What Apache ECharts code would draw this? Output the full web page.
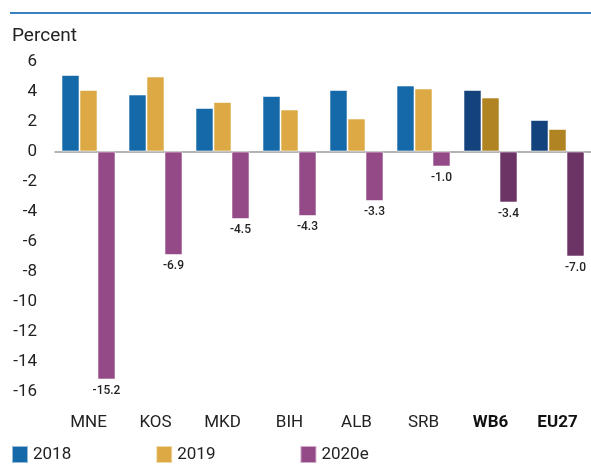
<!DOCTYPE html>
<html>
<head>
<meta charset="utf-8">
<script src="https://cdn.jsdelivr.net/npm/echarts@6/dist/echarts.min.js"></script>
<style>
  html, body { margin: 0; padding: 0; background: #fff; }
  #grafico { width: 591px; height: 464px; }
</style>
</head>
<body>
<div id="grafico"></div>
<script>
// DATOS
const categories = ["MNE", "KOS", "MKD", "BIH", "ALB", "SRB", "WB6", "EU27"];
const values2018 = [5.1, 3.8, 2.9, 3.7, 4.1, 4.4, 4.1, 2.1];
const values2019 = [4.1, 5.0, 3.3, 2.8, 2.2, 4.2, 3.6, 1.5];
const values2020 = [-15.2, -6.9, -4.5, -4.3, -3.3, -1.0, -3.4, -7.0];
const aggregates = ["WB6", "EU27"];

const font = "Roboto, sans-serif";

// colores: normal / agregados (más oscuros)
const colors = {
  "2018": ["#1569a8", "#13427c"],
  "2019": ["#dca944", "#b08323"],
  "2020e": ["#944a87", "#6c3464"]
};

function paint(values, name) {
  return values.map((v, i) => ({
    value: v,
    itemStyle: { color: colors[name][aggregates.includes(categories[i]) ? 1 : 0] }
  }));
}

const barStyle = { borderColor: "rgba(255,255,255,0.55)", borderWidth: 1 };

let options = {
  animation: false,
  title: {
    text: "Percent",
    left: 7,
    top: 22,
    textStyle: { fontFamily: font, fontSize: 19, fontWeight: "normal", color: "#222" }
  },
  graphic: [
    {
      type: "line",
      shape: { x1: 10, y1: 13, x2: 591, y2: 13 },
      style: { stroke: "#3b80c0", lineWidth: 2 }
    }
  ],
  legend: {
    left: 11,
    top: 445,
    padding: 0,
    itemWidth: 16,
    itemHeight: 17,
    itemGap: 84,
    icon: "rect",
    textStyle: { fontFamily: font, fontSize: 17, color: "#222" },
    data: ["2018", "2019", "2020e"]
  },
  grid: { left: 55, top: 61.5, width: 542, bottom: 72.5 },
  xAxis: [
    {
      type: "category",
      data: categories,
      axisLine: { onZero: true, lineStyle: { color: "#9a9a9a", width: 1.5 } },
      axisTick: { show: false },
      axisLabel: { show: false }
    },
    {
      type: "category",
      data: categories,
      position: "bottom",
      axisLine: { show: false, onZero: false },
      axisTick: { show: false },
      axisLabel: {
        interval: 0,
        margin: 23,
        fontFamily: font,
        fontSize: 17,
        color: "#222",
        formatter: v => aggregates.includes(v) ? "{b|" + v + "}" : v,
        rich: { b: { fontFamily: font, fontSize: 17, fontWeight: "bold", color: "#111" } }
      }
    }
  ],
  yAxis: {
    type: "value",
    min: -16,
    max: 6,
    interval: 2,
    axisLine: { show: false },
    axisTick: { show: false },
    splitLine: { show: false },
    axisLabel: { margin: 18, fontFamily: font, fontSize: 17, color: "#222" }
  },
  series: [
    {
      name: "2018",
      type: "bar",
      barWidth: 18,
      barGap: "0%",
      itemStyle: Object.assign({ color: colors["2018"][0] }, barStyle),
      data: paint(values2018, "2018")
    },
    {
      name: "2019",
      type: "bar",
      barWidth: 18,
      barGap: "0%",
      itemStyle: Object.assign({ color: colors["2019"][0] }, barStyle),
      data: paint(values2019, "2019")
    },
    {
      name: "2020e",
      type: "bar",
      barWidth: 18,
      barGap: "0%",
      itemStyle: Object.assign({ color: colors["2020e"][0] }, barStyle),
      label: {
        show: true,
        position: "bottom",
        distance: 5,
        fontFamily: font,
        fontSize: 12,
        fontWeight: 500,
        color: "#222",
        formatter: p => p.value.toFixed(1)
      },
      data: paint(values2020, "2020e")
    }
  ]
};

let chart = echarts.init(document.getElementById("grafico"));
chart.setOption(options);
</script>
</body>
</html>
